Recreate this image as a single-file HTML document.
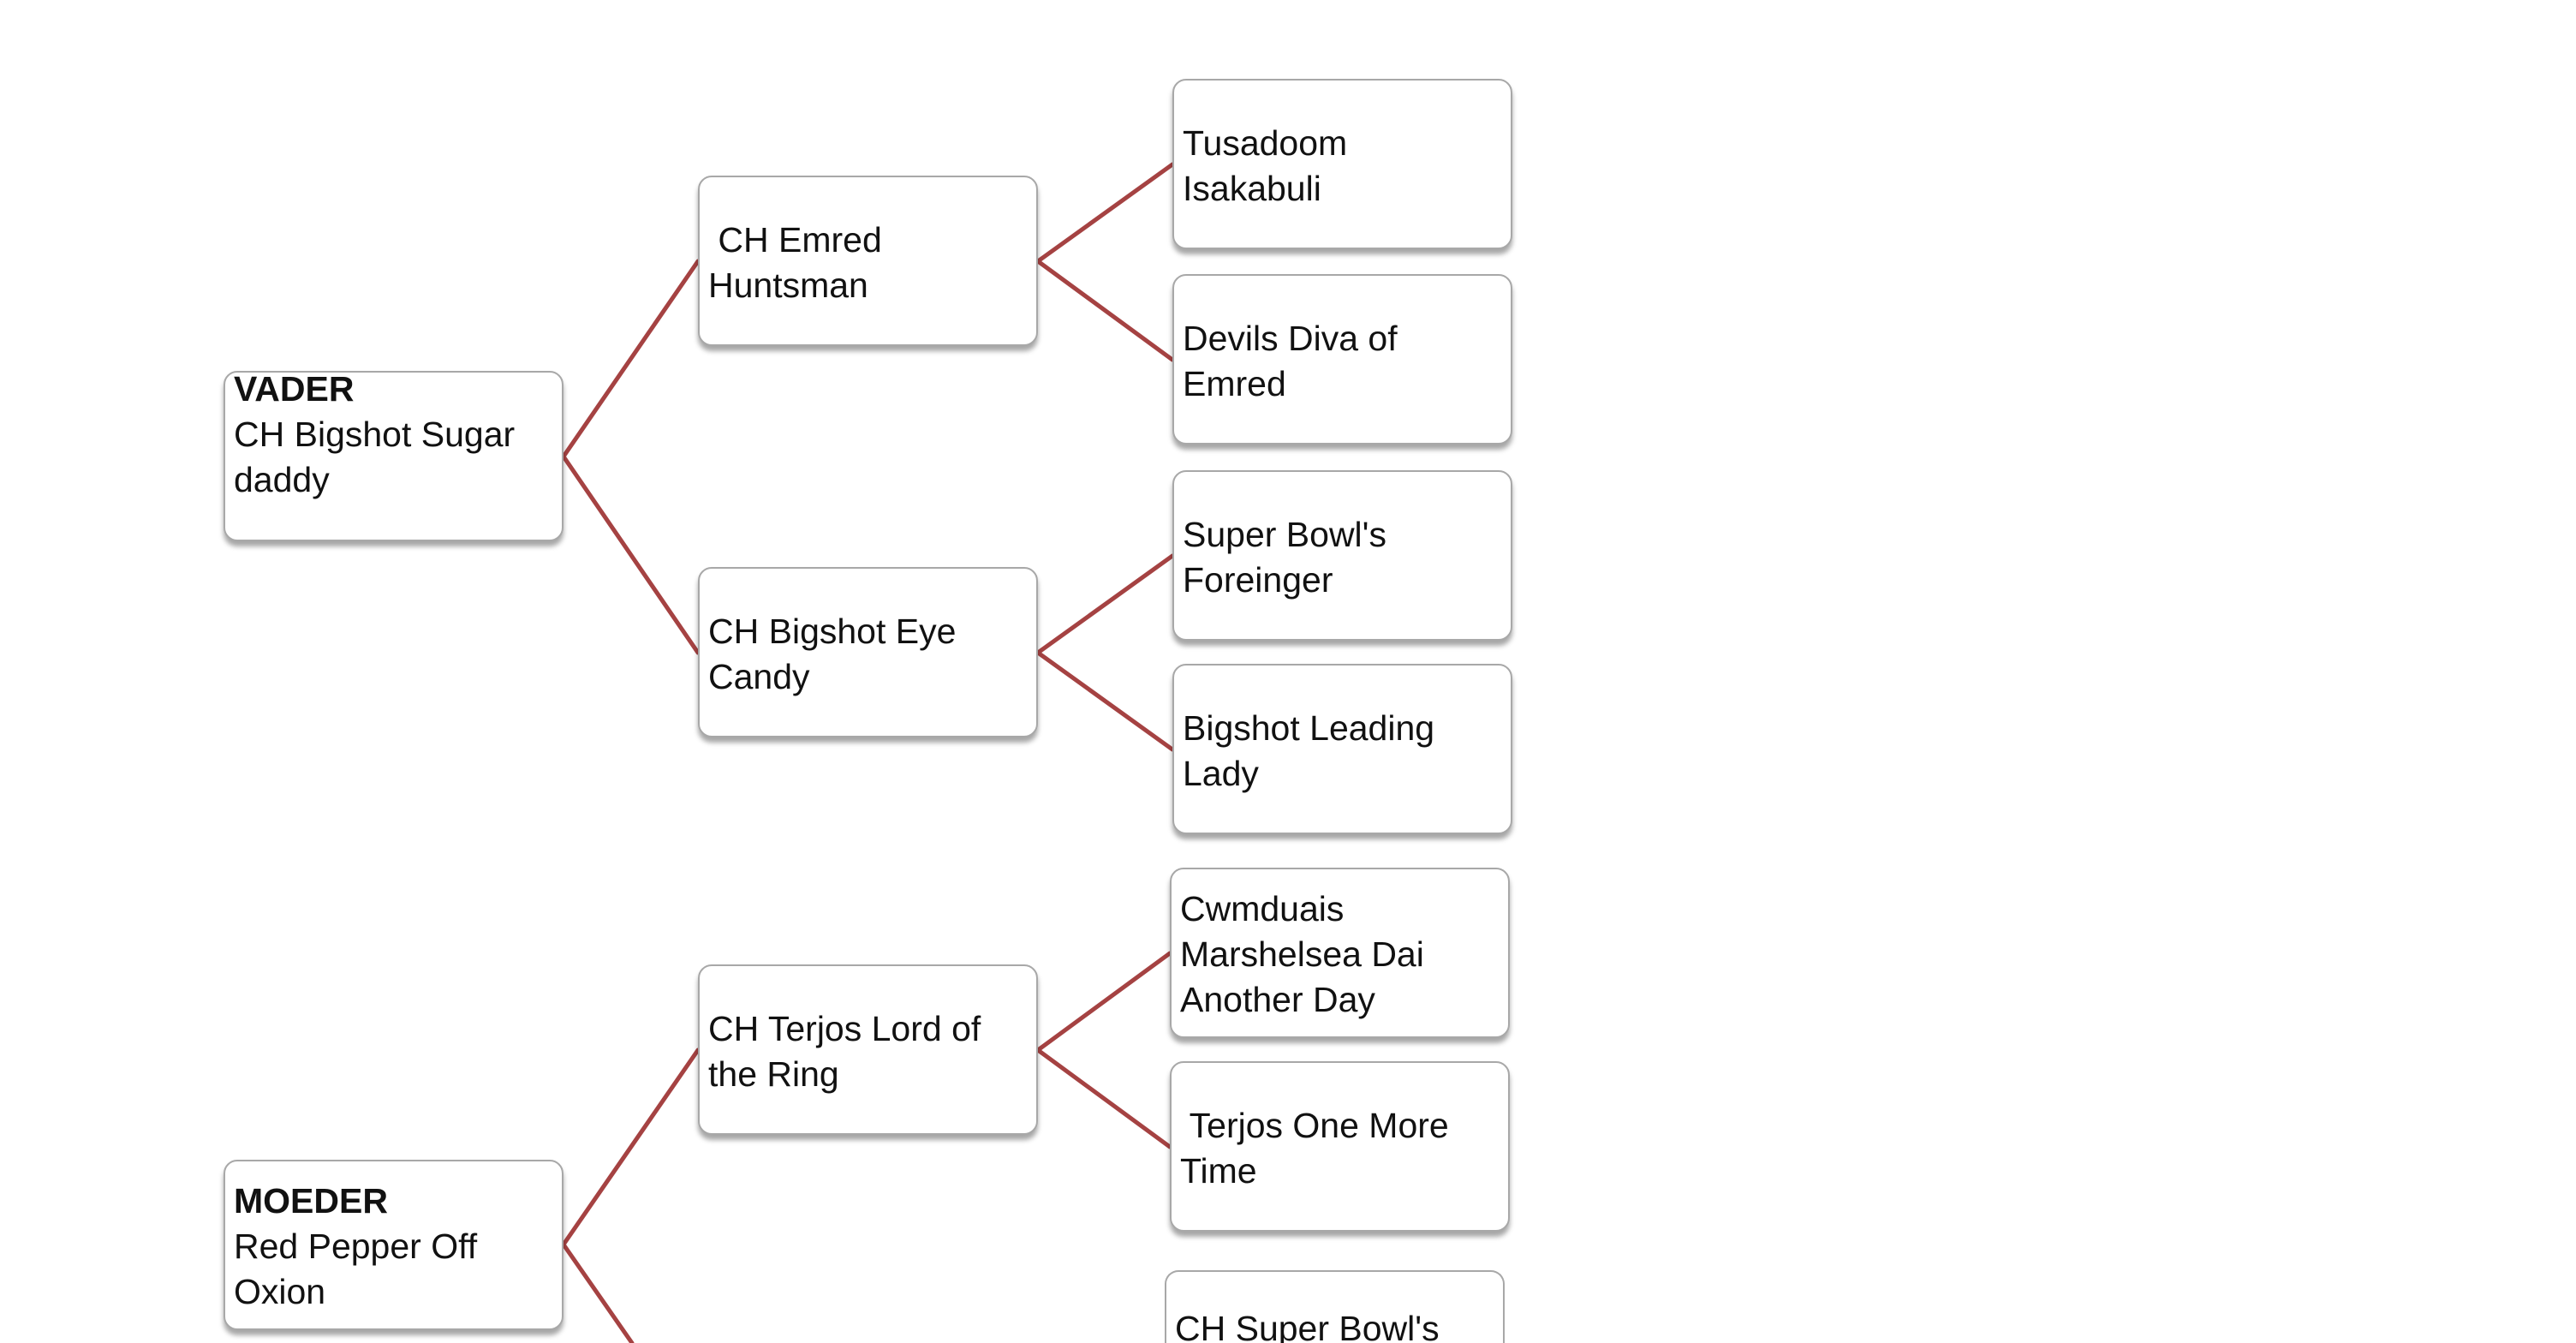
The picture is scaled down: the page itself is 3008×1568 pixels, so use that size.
<!DOCTYPE html>
<html><head><meta charset="utf-8"><style>
html,body{margin:0;padding:0;background:#fff;overflow:hidden;width:3008px;height:1568px;}
#w{width:3008px;height:1568px;position:relative;overflow:hidden;font-family:"Liberation Sans Narrow","Liberation Sans",sans-serif;}
.b{position:absolute;width:397px;height:199px;border:2px solid #a8a8a8;border-radius:16px;background:#fff;box-sizing:border-box;box-shadow:0 6px 6px rgba(0,0,0,0.35);}
.t{position:absolute;left:10px;font-size:41px;line-height:53px;color:#111;white-space:pre;}
svg{position:absolute;left:0;top:0;}
</style></head><body><div id="w">
<svg width="3008" height="1568">
<g stroke="#a54242" stroke-width="5" fill="none" stroke-linecap="round">
<polyline points="815,305 658,533 815,762"/>
<polyline points="1369,192 1212,305 1369,420"/>
<polyline points="1369,649 1212,762 1369,875"/>
<polyline points="815,1226 658,1453 738,1568"/>
<polyline points="1366,1113 1212,1226 1366,1339"/>
</g>
</svg>

<div class="b" style="left:261px;top:433px;"><div class="t" style="top:-7px;"><b>VADER</b>
CH Bigshot Sugar
daddy</div></div>

<div class="b" style="left:815px;top:205px;"><div class="t" style="top:47px;"> CH Emred
Huntsman</div></div>

<div class="b" style="left:815px;top:662px;"><div class="t" style="top:47px;">CH Bigshot Eye
Candy</div></div>

<div class="b" style="left:1369px;top:92px;"><div class="t" style="top:47px;">Tusadoom
Isakabuli</div></div>
<div class="b" style="left:1369px;top:320px;"><div class="t" style="top:47px;">Devils Diva of
Emred</div></div>
<div class="b" style="left:1369px;top:549px;"><div class="t" style="top:47px;">Super Bowl's
Foreinger</div></div>
<div class="b" style="left:1369px;top:775px;"><div class="t" style="top:47px;">Bigshot Leading
Lady</div></div>

<div class="b" style="left:261px;top:1354px;"><div class="t" style="top:20px;"><b>MOEDER</b>
Red Pepper Off
Oxion</div></div>

<div class="b" style="left:815px;top:1126px;"><div class="t" style="top:47px;">CH Terjos Lord of
the Ring</div></div>

<div class="b" style="left:1366px;top:1013px;"><div class="t" style="top:20px;">Cwmduais
Marshelsea Dai
Another Day</div></div>
<div class="b" style="left:1366px;top:1239px;"><div class="t" style="top:47px;"> Terjos One More
Time</div></div>
<div class="b" style="left:1360px;top:1483px;height:85px;border-bottom:none;border-radius:16px 16px 0 0;box-shadow:none;overflow:hidden;"><div class="t" style="top:40px;">CH Super Bowl's</div></div>
</div></body></html>
